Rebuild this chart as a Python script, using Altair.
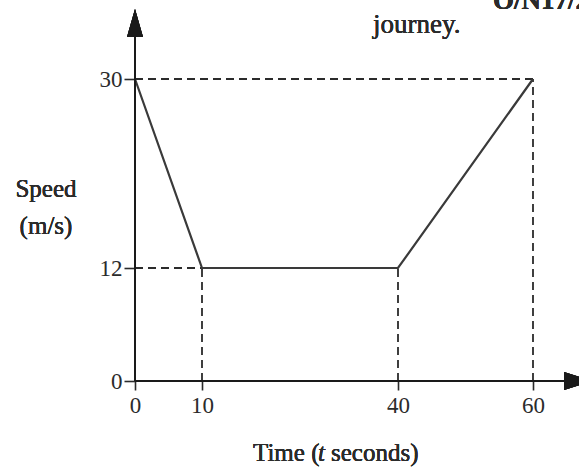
import altair as alt
import pandas as pd

# Speed-time graph of a journey
time_s = [0, 10, 40, 60]
speed_ms = [30, 12, 12, 30]
x_ticks = [0, 10, 40, 60]
y_ticks = [0, 12, 30]

SERIF = "Liberation Serif"
INK = "#2b2b2b"

df = pd.DataFrame({"t": time_s, "v": speed_ms})
guides = df[df["t"] > 0].reset_index(drop=True)
guides["zero"] = 0

# piecewise scales: the sketch is not drawn to scale
xs = alt.Scale(domain=[0, 10, 40, 60], range=[0, 67, 263, 398], zero=False, nice=False)
ys = alt.Scale(domain=[0, 12, 30], range=[381, 268, 79], zero=False, nice=False)

x_axis = alt.Axis(values=x_ticks, title=None, grid=False, domain=False, tickSize=9,
                  tickColor=INK, tickWidth=1.6, labelFont=SERIF, labelFontSize=23,
                  labelColor=INK, labelPadding=4, labelFlush=False)
y_axis = alt.Axis(values=y_ticks, title=None, grid=False, domain=False, tickSize=11,
                  tickColor=INK, tickWidth=1.6, labelFont=SERIF, labelFontSize=23,
                  labelColor=INK, labelPadding=2, labelBaseline="middle")

base = alt.Chart(df)

# dashed drop lines to both axes
vguides = alt.Chart(guides).mark_rule(strokeDash=[8, 5], strokeWidth=1.8, color=INK).encode(
    x=alt.X("t:Q", scale=xs, axis=x_axis),
    y=alt.Y("zero:Q", scale=ys, axis=y_axis),
    y2="v:Q",
)
hguides = alt.Chart(guides).mark_rule(strokeDash=[8, 5], strokeWidth=1.8, color=INK).encode(
    x=alt.X("zero:Q", scale=xs),
    x2="t:Q",
    y=alt.Y("v:Q", scale=ys),
)

line = base.mark_line(color="#3a3a3a", strokeWidth=2.2).encode(
    x=alt.X("t:Q", scale=xs),
    y=alt.Y("v:Q", scale=ys),
)

# axis lines with arrowheads
y_line = base.mark_rule(color="#1a1a1a", strokeWidth=2).encode(
    x=alt.value(0), y=alt.value(30), y2=alt.value(381))
x_line = base.mark_rule(color="#1a1a1a", strokeWidth=2).encode(
    x=alt.value(0), x2=alt.value(440), y=alt.value(381))
up_arrow = base.mark_point(shape="M0,-1L0.571,1L-0.571,1Z", filled=True, opacity=1,
                           color="#1a1a1a", size=784).encode(
    x=alt.value(0), y=alt.value(23))
right_arrow = base.mark_point(shape="M1,0L-1,-0.643L-1,0.643Z", filled=True, opacity=1,
                              color="#1a1a1a", size=784).encode(
    x=alt.value(443), y=alt.value(381))

def label(text, x, y, size=25, align="center", baseline="alphabetic", style="normal",
          weight="normal"):
    return base.mark_text(text=text, font=SERIF, fontSize=size, color=INK, align=align,
                          baseline=baseline, fontStyle=style, fontWeight=weight).encode(
        x=alt.value(x), y=alt.value(y))

texts = [
    label("Speed", -89, 197),
    label("(m/s)", -89, 234),
    label("Time (", 118, 461, align="left"),
    label("t", 183, 461, align="left", style="italic"),
    label("seconds)", 196, 461, align="left"),
    label("journey.", 238, 33, size=27, align="left"),
    label("O/N17/2", 358, 9, size=27, align="left", weight="bold"),
]

chart = alt.layer(vguides, hguides, line, y_line, x_line, up_arrow, right_arrow, *texts).properties(
    width=444,
    height=381,
    padding={"left": 135, "top": 0, "right": 0, "bottom": 90},
    autosize=alt.AutoSizeParams(type="none"),
    background="white",
).configure_view(stroke=None)

chart.save("out.html", embed_options={"renderer": "svg", "actions": False})
